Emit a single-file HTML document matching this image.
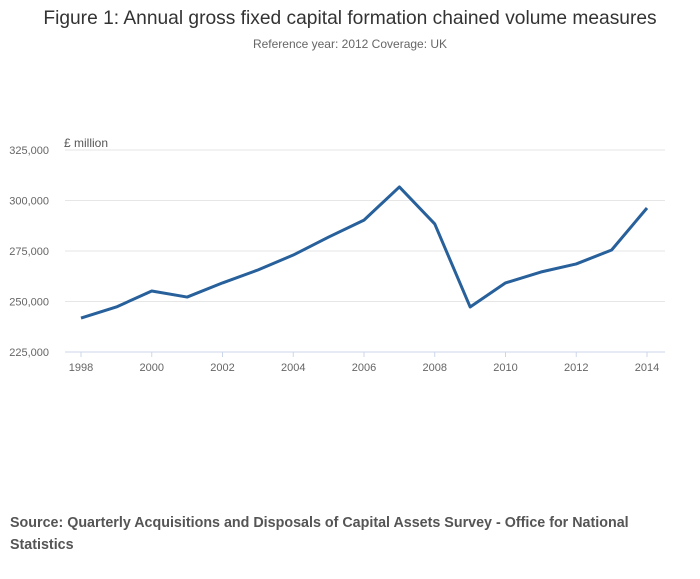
<!DOCTYPE html>
<html><head><meta charset="utf-8"><style>
body{margin:0;width:700px;height:574px;background:#fff;font-family:"Liberation Sans",sans-serif;overflow:hidden}
</style></head><body>
<svg width="700" height="574">
<text x="350" y="24" text-anchor="middle" font-size="19.2" fill="#333">Figure 1: Annual gross fixed capital formation chained volume measures</text>
<text x="350" y="48" text-anchor="middle" font-size="12" fill="#666">Reference year: 2012 Coverage: UK</text>
<text x="64" y="147" font-size="12" fill="#555">£ million</text>
<g id="grid"></g><g id="xt"></g>
<path id="line" fill="none" stroke="#27609a" stroke-width="3" stroke-linejoin="round"/>
<text x="10" y="527" font-size="14.3" font-weight="bold" fill="#555">Source: Quarterly Acquisitions and Disposals of Capital Assets Survey - Office for National</text>
<text x="10" y="549" font-size="14.3" font-weight="bold" fill="#555">Statistics</text>
</svg>
<script>
const years=[1998,1999,2000,2001,2002,2003,2004,2005,2006,2007,2008,2009,2010,2011,2012,2013,2014];
const values=[241800,247300,255200,252200,259200,265600,273000,281900,290300,306700,288400,247300,259200,264600,268600,275500,296300];
const yTicks=[225000,250000,275000,300000,325000];
const xTicks=[1998,2000,2002,2004,2006,2008,2010,2012,2014];
const NS="http://www.w3.org/2000/svg";
const xs=y=>81+(y-1998)*(647-81)/16;
const ys=v=>352-(v-225000)*(202/100000);
const g=document.getElementById('grid');
yTicks.forEach(t=>{
 const l=document.createElementNS(NS,'line');
 l.setAttribute('x1',65);l.setAttribute('x2',665);l.setAttribute('y1',ys(t));l.setAttribute('y2',ys(t));
 l.setAttribute('stroke',t===225000?'#ccd6eb':'#e6e6e6');
 
 
 g.appendChild(l);
 const tx=document.createElementNS(NS,'text');
 tx.setAttribute('x',49);tx.setAttribute('y',ys(t)+4);tx.setAttribute('text-anchor','end');
 tx.setAttribute('font-size','11');tx.setAttribute('fill','#666');
 tx.textContent=t.toLocaleString('en-GB');
 
 
 g.appendChild(tx);
});
const xt=document.getElementById('xt');
xTicks.forEach(t=>{
 const l=document.createElementNS(NS,'line');
 l.setAttribute('x1',xs(t));l.setAttribute('x2',xs(t));l.setAttribute('y1',352);l.setAttribute('y2',357);
 l.setAttribute('stroke','#ccd6eb');
 
 
 xt.appendChild(l);
 const tx=document.createElementNS(NS,'text');
 tx.setAttribute('x',xs(t));tx.setAttribute('y',371);tx.setAttribute('text-anchor','middle');
 tx.setAttribute('font-size','11');tx.setAttribute('fill','#666');
 tx.textContent=t;
 
 
 xt.appendChild(tx);
});
document.getElementById('line').setAttribute('d',years.map((y,i)=>(i?'L':'M')+xs(y)+','+ys(values[i])).join(' '));
</script>
</body></html>
